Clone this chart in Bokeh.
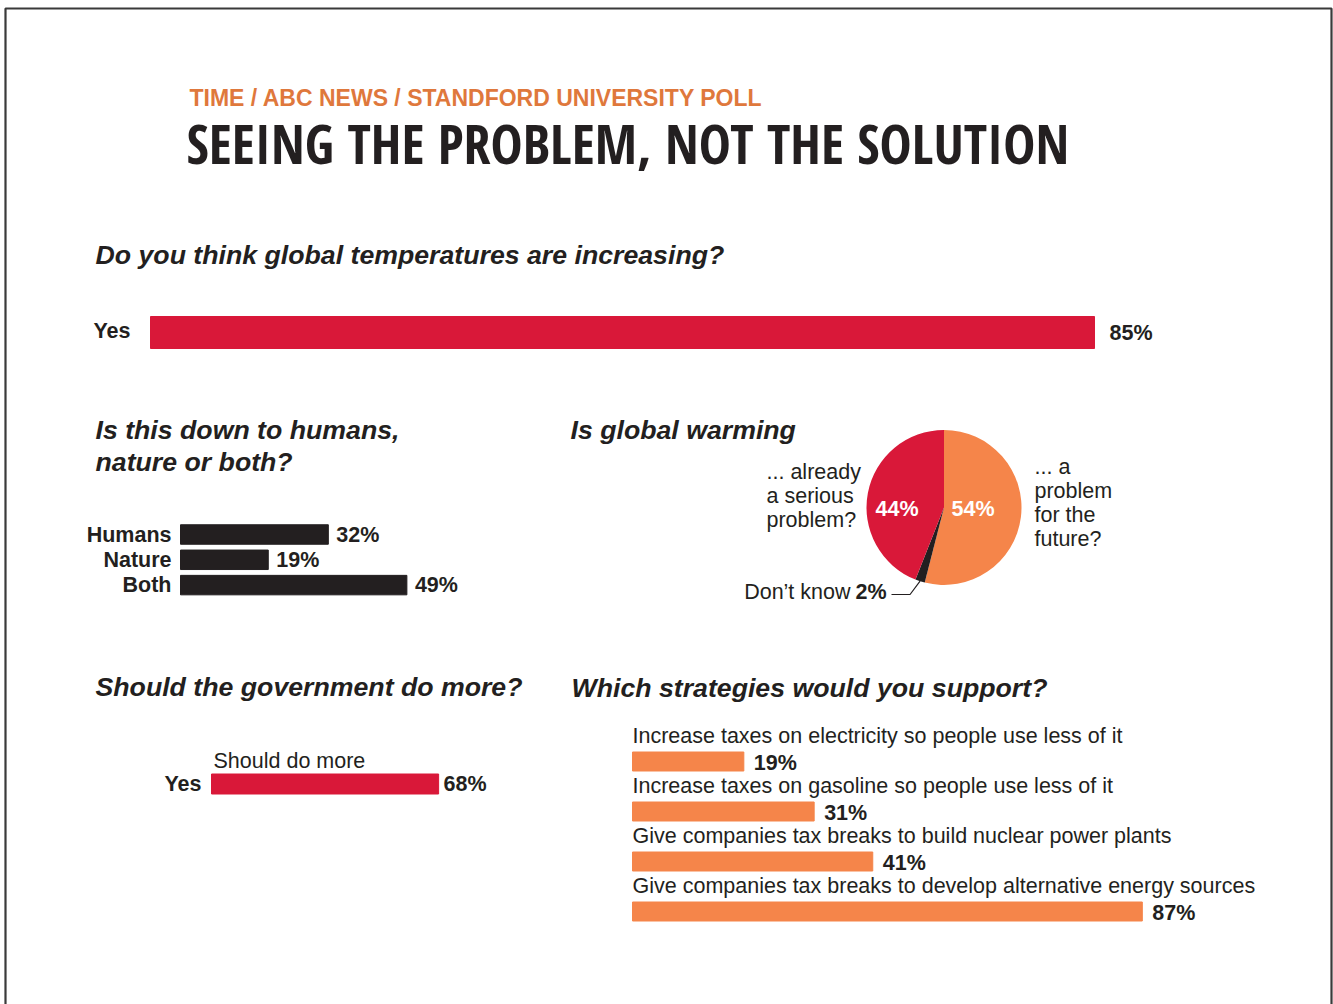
import math
from bokeh.plotting import figure
from bokeh.models import Range1d
from bokeh.core.properties import value
from bokeh.embed import file_html
from bokeh.resources import INLINE

# ---------------- data ----------------
header = "TIME / ABC NEWS / STANDFORD UNIVERSITY POLL"
headline = "SEEING THE PROBLEM, NOT THE SOLUTION"

q1_title = "Do you think global temperatures are increasing?"
q1_cats = ["Yes"]
q1_vals = [85]

q2_title = ["Is this down to humans,", "nature or both?"]
q2_cats = ["Humans", "Nature", "Both"]
q2_vals = [32, 19, 49]

q3_title = "Is global warming"
q3_cats = ["... a problem for the future?", "Don\u2019t know", "... already a serious problem?"]
q3_vals = [54, 2, 44]
q3_future_lines = ["... a", "problem", "for the", "future?"]
q3_already_lines = ["... already", "a serious", "problem?"]

q4_title = "Should the government do more?"
q4_cats = ["Yes"]
q4_sub = "Should do more"
q4_vals = [68]

q5_title = "Which strategies would you support?"
q5_cats = [
    "Increase taxes on electricity so people use less of it",
    "Increase taxes on gasoline so people use less of it",
    "Give companies tax breaks to build nuclear power plants",
    "Give companies tax breaks to develop alternative energy sources",
]
q5_vals = [19, 31, 41, 87]

# ---------------- style ----------------
W, H = 1333, 1004
INK = "#231f20"
RED = "#d91839"
ORANGE = "#f5854a"
HEAD_ORANGE = "#df783c"
FONT = value("Liberation Sans")
CONDENSED = value("Open Sans Condensed")
QSIZE = 26.7
BSIZE = 21.5

p = figure(width=W, height=H, x_range=Range1d(0, W), y_range=Range1d(H, 0),
           output_backend="svg", toolbar_location=None,
           x_axis_location=None, y_axis_location=None, min_border=0,
           outline_line_color=None, background_fill_color="white",
           border_fill_color="white")
p.grid.visible = False

# panel scales: (x origin px, px per %, y origin px, px per row)
panels = {
    "q1": (150, 11.106, 332, 40),
    "q2": (180, 4.62, 534, 25.3),
    "q4": (211, 3.34, 783.5, 40),
    "q5": (632, 5.86, 761, 50),
}
xr, yr = {}, {}
for name, (x0, kx, y0, ky) in panels.items():
    xr[name] = Range1d(-x0 / kx, (W - x0) / kx)
    yr[name] = Range1d((H - y0) / ky, -y0 / ky)
p.extra_x_ranges = xr
p.extra_y_ranges = yr


def txt(x, y, t, size, style="normal", color=INK, align="left", font=FONT, **kw):
    p.text(x=x, y=y, text=t, text_font=font, text_font_size=f"{size}px",
           text_font_style=style, text_color=color, text_align=align,
           text_baseline="middle", **kw)


# frame border
p.quad(left=[5], right=[1331], top=[8], bottom=[1015], fill_color=None,
       line_color="#3a3a3a", line_width=2.2)

# headers
txt([189], [97], [header], 23, "bold", HEAD_ORANGE)
txt([186], [142], [headline], 54, "bold", INK, font=CONDENSED)

# ---------- Q1 ----------
txt([95], [254], [q1_title], QSIZE, "bold italic")
rows1 = list(range(len(q1_cats)))
p.hbar(y=rows1, left=0, right=q1_vals, height=0.8, color=RED,
       x_range_name="q1", y_range_name="q1")
txt([0] * len(rows1), rows1, q1_cats, BSIZE, "bold", align="right",
    x_offset=-20, y_offset=-2, x_range_name="q1", y_range_name="q1")
txt(q1_vals, rows1, [f"{v}%" for v in q1_vals], BSIZE, "bold",
    x_offset=15, x_range_name="q1", y_range_name="q1")

# ---------- Q2 ----------
txt([95, 95], [429, 461], q2_title, QSIZE, "bold italic")
rows2 = list(range(len(q2_cats)))
p.hbar(y=rows2, left=0, right=q2_vals, height=0.77, color=INK,
       x_range_name="q2", y_range_name="q2")
txt([0] * len(rows2), rows2, q2_cats, BSIZE, "bold", align="right",
    x_offset=-9, x_range_name="q2", y_range_name="q2")
txt(q2_vals, rows2, [f"{v}%" for v in q2_vals], BSIZE, "bold",
    x_offset=8, x_range_name="q2", y_range_name="q2")

# ---------- Q3 (pie) ----------
txt([570], [429], [q3_title], QSIZE, "bold italic")
cx, cy, r = 943.5, 507, 77.5
pie_colors = [ORANGE, INK, RED]
total = sum(q3_vals)
starts, ends = [], []
a = math.pi / 2
for v in q3_vals:
    starts.append(a)
    a -= 2 * math.pi * v / total
    ends.append(a)
p.wedge(x=cx, y=cy, radius=r, start_angle=starts, end_angle=ends,
        direction="clock", fill_color=pie_colors, line_color=None)
# percentage labels inside
txt([cx + 29, cx - 47], [cy + 1, cy + 1], [f"{q3_vals[0]}%", f"{q3_vals[2]}%"],
    BSIZE, "bold", "white", align="center")
txt([1034] * 4, [466, 490, 514, 538], q3_future_lines, BSIZE)
txt([766] * 3, [471, 495, 519], q3_already_lines, BSIZE)
txt([850], [591], [q3_cats[1]], BSIZE, align="right")
txt([886], [591], [f"{q3_vals[1]}%"], BSIZE, "bold", align="right")
mid = (starts[1] + ends[1]) / 2
px_, py_ = cx + r * math.cos(mid), cy - r * math.sin(mid)
p.line(x=[891, px_ - 10, px_], y=[594, 594, py_], line_color=INK, line_width=1.2)

# ---------- Q4 ----------
txt([95], [686], [q4_title], QSIZE, "bold italic")
rows4 = list(range(len(q4_cats)))
p.hbar(y=rows4, left=0, right=q4_vals, height=0.5, color=RED,
       x_range_name="q4", y_range_name="q4")
txt([0], [-0.57], [q4_sub], BSIZE, x_offset=2, x_range_name="q4", y_range_name="q4")
txt([0] * len(rows4), rows4, q4_cats, BSIZE, "bold", align="right",
    x_offset=-10, x_range_name="q4", y_range_name="q4")
txt(q4_vals, rows4, [f"{v}%" for v in q4_vals], BSIZE, "bold",
    x_offset=5, x_range_name="q4", y_range_name="q4")

# ---------- Q5 ----------
txt([571], [687], [q5_title], QSIZE, "bold italic")
rows5 = list(range(len(q5_cats)))
p.hbar(y=rows5, left=0, right=q5_vals, height=0.38, color=ORANGE,
       x_range_name="q5", y_range_name="q5")
txt([0] * len(rows5), [i - 0.52 for i in rows5], q5_cats, BSIZE,
    x_range_name="q5", y_range_name="q5")
txt(q5_vals, rows5, [f"{v}%" for v in q5_vals], BSIZE, "bold",
    x_offset=10, y_offset=1, x_range_name="q5", y_range_name="q5")

open("out.html", "w").write(file_html(p, INLINE))
